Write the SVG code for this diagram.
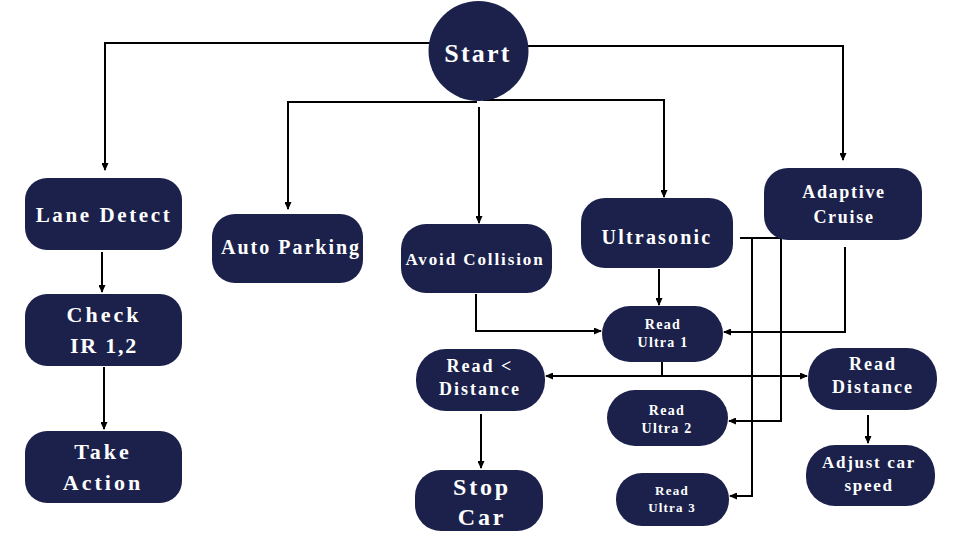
<svg xmlns="http://www.w3.org/2000/svg" width="958" height="537" viewBox="0 0 958 537">
<style>
.n{fill:#1b214b}
.t{fill:#ffffff;font-family:"Liberation Serif","Times New Roman",serif;font-weight:bold;text-anchor:middle}
.c{fill:none;stroke:#000;stroke-width:2}
</style>
<defs>
<marker id="ah" markerUnits="userSpaceOnUse" markerWidth="8" markerHeight="7" refX="7" refY="3.5" orient="auto">
<path d="M0,0 L8,3.5 L0,7 z" fill="#000"/>
</marker>
</defs>
<rect width="958" height="537" fill="#fff"/>
<g id="connectors">
<path class="c" d="M430,43 H105 V170" marker-end="url(#ah)"/>
<path class="c" d="M528,46 H843 V160" marker-end="url(#ah)"/>
<path class="c" d="M477,102 H288 V209" marker-end="url(#ah)"/>
<path class="c" d="M479,107 V223" marker-end="url(#ah)"/>
<path class="c" d="M483,100 H664 V197" marker-end="url(#ah)"/>
<path class="c" d="M102,252 V292" marker-end="url(#ah)"/>
<path class="c" d="M104,367 V429" marker-end="url(#ah)"/>
<path class="c" d="M476,294 V331 H601" marker-end="url(#ah)"/>
<path class="c" d="M659,269 V305" marker-end="url(#ah)"/>
<path class="c" d="M845,247 V332 H724" marker-end="url(#ah)"/>
<path class="c" d="M662,362 V376 H546" marker-end="url(#ah)"/>
<path class="c" d="M662,376 H807" marker-end="url(#ah)"/>
<path class="c" d="M740,238 H781 V421 H729" marker-end="url(#ah)"/>
<path class="c" d="M752,238 V496 H730" marker-end="url(#ah)"/>
<path class="c" d="M481,414 V468" marker-end="url(#ah)"/>
<path class="c" d="M868,415 V443" marker-end="url(#ah)"/>
</g>
<g id="start">
<circle class="n" cx="478.5" cy="51" r="50"/>
<text class="t" x="478" y="62" font-size="26" letter-spacing="2.2">Start</text>
</g>
<g id="lane-detect">
<rect class="n" x="25" y="178" width="157" height="72" rx="22"/>
<text class="t" x="104" y="222" font-size="21" letter-spacing="2.6">Lane Detect</text>
</g>
<g id="check-ir">
<rect class="n" x="25" y="294" width="157" height="72" rx="22"/>
<text class="t" x="104" y="322" font-size="22" letter-spacing="3">Check</text>
<text class="t" x="104" y="353" font-size="22" letter-spacing="1.8">IR 1,2</text>
</g>
<g id="take-action">
<rect class="n" x="25" y="431" width="157" height="72" rx="22"/>
<text class="t" x="103" y="459" font-size="22" letter-spacing="3">Take</text>
<text class="t" x="103" y="490" font-size="22" letter-spacing="3">Action</text>
</g>
<g id="auto-parking">
<rect class="n" x="212" y="214" width="151" height="69" rx="23"/>
<text class="t" x="291" y="254" font-size="20" letter-spacing="2">Auto Parking</text>
</g>
<g id="avoid-collision">
<rect class="n" x="401" y="224" width="151" height="69" rx="25"/>
<text class="t" x="475" y="265" font-size="17" letter-spacing="1.9">Avoid Collision</text>
</g>
<g id="ultrasonic">
<rect class="n" x="581" y="198" width="152" height="70" rx="24"/>
<text class="t" x="657" y="244" font-size="20" letter-spacing="2.2">Ultrasonic</text>
</g>
<g id="adaptive-cruise">
<rect class="n" x="764" y="168" width="158" height="72" rx="24"/>
<text class="t" x="844" y="198" font-size="18" letter-spacing="1.7">Adaptive</text>
<text class="t" x="844" y="223" font-size="18" letter-spacing="1.7">Cruise</text>
</g>
<g id="read-ultra-1">
<rect class="n" x="602" y="306" width="121" height="56" rx="28"/>
<text class="t" x="663" y="329" font-size="14" letter-spacing="1.3">Read</text>
<text class="t" x="663" y="347" font-size="14" letter-spacing="1.2">Ultra 1</text>
</g>
<g id="read-less-distance">
<rect class="n" x="416" y="349" width="129" height="62" rx="30"/>
<text class="t" x="480" y="372" font-size="18" letter-spacing="2">Read &lt;</text>
<text class="t" x="480" y="395" font-size="18" letter-spacing="2">Distance</text>
</g>
<g id="stop-car">
<rect class="n" x="415" y="470" width="128" height="61" rx="26"/>
<text class="t" x="482" y="495" font-size="24" letter-spacing="2.8">Stop</text>
<text class="t" x="482" y="525" font-size="24" letter-spacing="2.8">Car</text>
</g>
<g id="read-distance">
<rect class="n" x="808" y="348" width="129" height="62" rx="30"/>
<text class="t" x="873" y="370" font-size="18" letter-spacing="2">Read</text>
<text class="t" x="873" y="393" font-size="18" letter-spacing="2">Distance</text>
</g>
<g id="read-ultra-2">
<rect class="n" x="607" y="390" width="121" height="56" rx="28"/>
<text class="t" x="667" y="415" font-size="14" letter-spacing="1.3">Read</text>
<text class="t" x="667" y="433" font-size="14" letter-spacing="1.2">Ultra 2</text>
</g>
<g id="read-ultra-3">
<rect class="n" x="616" y="473" width="113" height="53" rx="26"/>
<text class="t" x="672" y="495" font-size="13" letter-spacing="1.3">Read</text>
<text class="t" x="672" y="512" font-size="13" letter-spacing="1.2">Ultra 3</text>
</g>
<g id="adjust-speed">
<rect class="n" x="806" y="445" width="129" height="61" rx="29"/>
<text class="t" x="869" y="468" font-size="17" letter-spacing="1.7">Adjust car</text>
<text class="t" x="869" y="491" font-size="17" letter-spacing="1.7">speed</text>
</g>
</svg>
